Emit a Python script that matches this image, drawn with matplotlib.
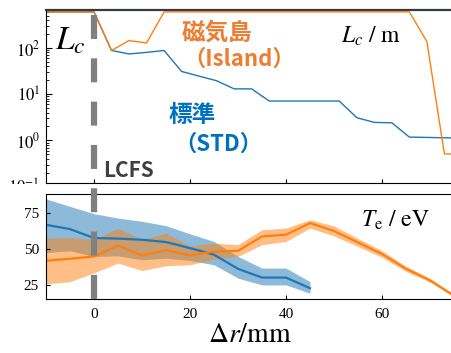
import matplotlib
matplotlib.use("Agg")
import matplotlib.pyplot as plt
from matplotlib.lines import Line2D
from matplotlib.transforms import Bbox, TransformedBbox, blended_transform_factory
from matplotlib.ticker import LogLocator, NullFormatter, FixedLocator

plt.rcParams['font.family'] = ['Liberation Serif', 'DejaVu Serif']
plt.rcParams['mathtext.fontset'] = 'stix'

# ---- data: connection length ----
x_lc = [-11.0, 0.0, 3.65, 7.3, 10.95, 14.6, 18.25, 21.9, 25.55, 29.2, 32.85, 36.5,
        40.15, 43.8, 47.45, 51.1, 54.75, 58.4, 62.05, 65.7, 69.35, 73.0, 76.65]
lc_std = [600, 600, 88, 74, 80, 88, 31, 24.5, 19.5, 13, 13, 7.1,
          7.1, 7.1, 7.1, 7.1, 3.1, 2.45, 2.4, 1.18, 1.16, 1.14, 1.12]
lc_island = [600, 600, 88, 144, 128, 600, 600, 600, 600, 600, 600, 600,
             600, 600, 600, 600, 600, 600, 600, 600, 137, 0.51, 0.51]

# ---- data: electron temperature ----
x_te_island = [-10, -5, 0, 5, 10, 15, 20, 25, 30, 35, 40, 45, 50, 55, 60, 65, 70, 75]
te_island = [41.8, 43.2, 44.8, 52.4, 45.5, 49.2, 45.5, 48.2, 48.7, 58.7, 59.9, 68.0,
             62.5, 54.5, 46.5, 36.2, 28.2, 17.5]
te_island_lo = [25.7, 27.3, 33.4, 40.2, 35.0, 38.3, 39.0, 43.0, 44.8, 53.0, 55.2, 64.5,
                59.0, 51.7, 44.2, 34.4, 26.9, 16.6]
te_island_hi = [57.6, 57.9, 56.6, 64.5, 56.4, 61.0, 52.0, 54.0, 53.0, 63.4, 64.5, 70.3,
                66.0, 57.3, 48.8, 38.0, 29.5, 18.4]

x_te_std = [-10, -5, 0, 5, 10, 15, 20, 25, 30, 35, 40, 45]
te_std = [66.8, 63.8, 57.6, 57.2, 56.4, 54.8, 50.6, 46.0, 36.2, 30.1, 30.1, 22.7]
te_std_lo = [47.5, 48.7, 44.8, 45.2, 42.5, 43.6, 42.0, 39.0, 29.7, 25.0, 25.0, 19.2]
te_std_hi = [84.8, 79.6, 74.5, 71.5, 69.2, 66.2, 60.5, 55.2, 44.8, 36.7, 36.7, 27.3]

xticks = [0, 20, 40, 60]
te_ticks = [25, 50, 75]

W, H = 452, 353
fig = plt.figure(figsize=(W / 100, H / 100), dpi=100)

def fx(px):
    return px / W

def fy(py):
    return 1 - py / H

ax1 = fig.add_axes([fx(46), fy(183), fx(454) - fx(46), fy(10) - fy(183)])
ax2 = fig.add_axes([fx(46), fy(299.3), fx(454) - fx(46), fy(194.3) - fy(299.3)])

C_BLUE = '#1f77b4'
C_ORANGE = '#ff7f0e'

# top panel
ax1.plot(x_lc, lc_std, color=C_BLUE, lw=1.0)
ax1.plot(x_lc, lc_island, color=C_ORANGE, lw=1.0)
ax1.set_yscale('log')
ax1.set_xlim(-10, 75)
ax1.set_ylim(0.12, 660)
ax1.yaxis.set_major_locator(FixedLocator([1, 10, 100]))
ax1.set_yticklabels([r'$10^{0}$', r'$10^{1}$', r'$10^{2}$'])
ax1.yaxis.set_minor_locator(LogLocator(base=10, subs=range(2, 10)))
ax1.yaxis.set_minor_formatter(NullFormatter())
ax1.set_xticks(xticks)
ax1.set_xticklabels([])
ax1.tick_params(axis='both', which='both', direction='in')
ax1.tick_params(axis='y', which='major', length=4, labelsize=12, pad=4)
ax1.tick_params(axis='y', which='minor', length=2)
ax1.tick_params(axis='x', which='major', length=3)
ax1.spines['right'].set_visible(False)
ax1.spines['top'].set_linewidth(1.6)
ax1.spines['top'].set_color('#333a44')

# bottom panel
ax2.fill_between(x_te_std, te_std_lo, te_std_hi, color=C_BLUE, alpha=0.5, lw=0)
ax2.fill_between(x_te_island, te_island_lo, te_island_hi, color=C_ORANGE, alpha=0.5, lw=0)
ax2.plot(x_te_std, te_std, color=C_BLUE, lw=1.6)
ax2.plot(x_te_island, te_island, color=C_ORANGE, lw=1.6)
ax2.set_xlim(-10, 75)
ax2.set_ylim(15, 88)
ax2.set_yticks(te_ticks)
ax2.set_xticks(xticks)
ax2.tick_params(axis='both', which='both', direction='in', length=3, labelsize=11)
ax2.tick_params(axis='y', pad=5)
ax2.tick_params(axis='x', pad=6)
ax2.spines['right'].set_visible(False)
ax2.set_xlabel(r'$\Delta r/\mathrm{mm}$', fontsize=20, labelpad=2)

# partially hidden 10^-1 label
t = fig.text(fx(40), fy(188), r'$10^{-1}$', ha='right', va='center', fontsize=12)
t.set_clip_box(TransformedBbox(Bbox([[0, fy(183.5)], [1, 1]]), fig.transFigure))
t.set_clip_on(True)

# LCFS dashed line across both panels
trans = blended_transform_factory(ax2.transData, fig.transFigure)
lcfs = Line2D([0, 0], [fy(15), fy(300)], transform=trans, color='#808080',
              lw=4.5, linestyle=(0, (3.84, 3.09)), solid_capstyle='butt',
              dash_capstyle='butt', zorder=5)
fig.add_artist(lcfs)

# texts
cjk = ['Noto Sans CJK JP', 'DejaVu Sans']
fig.text(fx(55), fy(50), r'$L_c$', fontsize=24, ha='left', va='baseline')
fig.text(fx(341), fy(42.7), r'$L_c\ /\ \mathrm{m}$', fontsize=17, ha='left', va='baseline')
fig.text(fx(361), fy(226.7), r'$T_\mathrm{e}\ /\ \mathrm{eV}$', fontsize=17, ha='left', va='baseline')
fig.text(fx(102.7), fy(177.3), 'LCFS', fontsize=15, fontweight='bold', color='#3f3f3f',
         ha='left', va='baseline', family=cjk)

T_OR = '#ED7D31'
T_BL = '#0070C0'
fig.text(fx(216.7), fy(32.5), '磁気島', fontsize=17, fontweight='bold', color=T_OR,
         ha='center', va='center', family=cjk)
fig.text(fx(239), fy(59), '（Island）', fontsize=16, fontweight='bold', color=T_OR,
         ha='center', va='center', family=cjk)
fig.text(fx(192.5), fy(115), '標準', fontsize=17, fontweight='bold', color=T_BL,
         ha='center', va='center', family=cjk)
fig.text(fx(218.3), fy(144), '（STD）', fontsize=16, fontweight='bold', color=T_BL,
         ha='center', va='center', family=cjk)

fig.savefig('out.png', dpi=100)
